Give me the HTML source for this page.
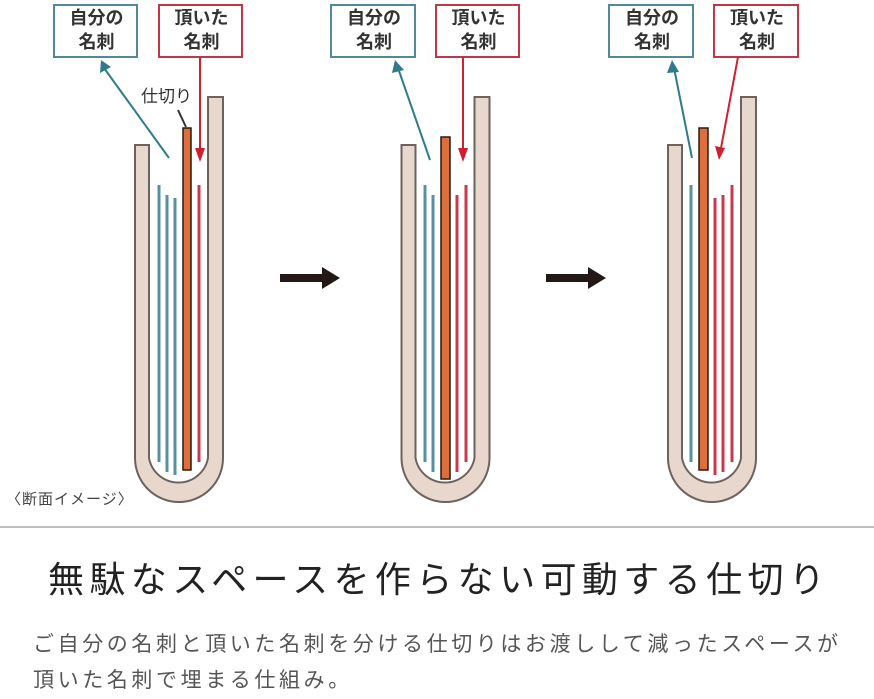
<!DOCTYPE html>
<html><head><meta charset="utf-8"><style>
html,body{margin:0;padding:0;background:#fff;}
body{width:874px;height:695px;overflow:hidden;position:relative;font-family:"Liberation Sans","Noto Sans CJK JP",sans-serif;}
svg{position:absolute;left:0;top:0;}
.t{position:absolute;white-space:nowrap;}
</style></head><body>
<svg width="874" height="695" viewBox="0 0 874 695">
<defs>
<g id="u">
<path d="M135,145 L149,145 L149,458 A30,30 0 0 0 208,458 L208,97 L223,97 L223,458 A44,44 0 0 1 135,458 Z" fill="#e8d7cc" stroke="#6d625d" stroke-width="2"/>
</g>
</defs>
<use href="#u"/>
<use href="#u" x="266.5"/>
<use href="#u" x="533"/>
<g stroke-linecap="butt" stroke-width="3">
<line x1="159" y1="185" x2="159" y2="462" stroke="#5790a0"/>
<line x1="167" y1="195" x2="167" y2="472" stroke="#5790a0"/>
<line x1="175" y1="198" x2="175" y2="475" stroke="#5790a0"/>
<line x1="199" y1="185" x2="199" y2="462" stroke="#c9394d"/>
<line x1="425" y1="185" x2="425" y2="462" stroke="#5790a0"/>
<line x1="433" y1="195" x2="433" y2="472" stroke="#5790a0"/>
<line x1="457" y1="195" x2="457" y2="472" stroke="#c9394d"/>
<line x1="466" y1="185" x2="466" y2="462" stroke="#c9394d"/>
<line x1="691" y1="185" x2="691" y2="462" stroke="#5790a0"/>
<line x1="715" y1="198" x2="715" y2="475" stroke="#c9394d"/>
<line x1="723" y1="195" x2="723" y2="472" stroke="#c9394d"/>
<line x1="732" y1="185" x2="732" y2="462" stroke="#c9394d"/>
</g>
<g fill="#dc6f3c" stroke="#2a1a14" stroke-width="1.5">
<rect x="183" y="128" width="8" height="342"/>
<rect x="441" y="137" width="9" height="342"/>
<rect x="699" y="128" width="9" height="342"/>
</g>
<g fill="#fff" stroke-width="2">
<rect x="54" y="5" width="83" height="52" stroke="#4f8a98"/>
<rect x="159" y="5" width="83" height="52" stroke="#c2364a"/>
<rect x="331" y="5" width="84" height="52" stroke="#4f8a98"/>
<rect x="436" y="5" width="83" height="52" stroke="#c2364a"/>
<rect x="609" y="5" width="84" height="52" stroke="#4f8a98"/>
<rect x="714" y="5" width="84" height="52" stroke="#c2364a"/>
</g>
<g stroke-width="2" fill="none">
<line x1="169" y1="158" x2="104" y2="68" stroke="#2f7b8c"/>
<line x1="200" y1="57" x2="200" y2="150" stroke="#d01f2e"/>
<line x1="430" y1="160" x2="398" y2="68" stroke="#2f7b8c"/>
<line x1="463" y1="57" x2="463" y2="150" stroke="#d01f2e"/>
<line x1="692" y1="158" x2="674" y2="68" stroke="#2f7b8c"/>
<line x1="738" y1="57" x2="721" y2="148" stroke="#d01f2e"/>
<line x1="178" y1="110" x2="186" y2="127" stroke="#333"/>
</g>
<g stroke="none">
<polygon points="101,60 100,73 111,67" fill="#2f7b8c"/>
<polygon points="395,60 392,73 404,70" fill="#2f7b8c"/>
<polygon points="672,60 667,73 679,72" fill="#2f7b8c"/>
<polygon points="200,162 195,148 205,148" fill="#d01f2e"/>
<polygon points="463,162 458,148 468,148" fill="#d01f2e"/>
<polygon points="719,160 715,146 725,148" fill="#d01f2e"/>
</g>
<polygon points="280,274 322,274 322,267 340,278 322,289 322,282 280,282" fill="#231815"/>
<polygon points="546,274 588,274 588,267 606,278 588,289 588,282 546,282" fill="#231815"/>
<line x1="0" y1="527" x2="874" y2="527" stroke="#aaa" stroke-width="1.5"/>
</svg>
<div class="t" style="left:54px;top:6px;width:85px;text-align:center;font-size:18px;line-height:24px;color:#333;font-weight:bold;">自分の<br>名刺</div>
<div class="t" style="left:159px;top:6px;width:85px;text-align:center;font-size:18px;line-height:24px;color:#333;font-weight:bold;">頂いた<br>名刺</div>
<div class="t" style="left:331px;top:6px;width:86px;text-align:center;font-size:18px;line-height:24px;color:#333;font-weight:bold;">自分の<br>名刺</div>
<div class="t" style="left:436px;top:6px;width:85px;text-align:center;font-size:18px;line-height:24px;color:#333;font-weight:bold;">頂いた<br>名刺</div>
<div class="t" style="left:609px;top:6px;width:86px;text-align:center;font-size:18px;line-height:24px;color:#333;font-weight:bold;">自分の<br>名刺</div>
<div class="t" style="left:714px;top:6px;width:86px;text-align:center;font-size:18px;line-height:24px;color:#333;font-weight:bold;">頂いた<br>名刺</div>
<div class="t" style="left:141px;top:85px;font-size:17px;line-height:24px;color:#333;">仕切り</div>
<div class="t" style="left:6px;top:488px;font-size:15px;line-height:24px;color:#444;letter-spacing:1px;">〈断面イメージ〉</div>
<div class="t" style="left:48px;top:558px;font-size:36px;line-height:44px;color:#222;letter-spacing:5.4px;">無駄なスペースを作らない可動する仕切り</div>
<div class="t" style="left:33px;top:627px;font-size:21px;line-height:36px;color:#555;letter-spacing:3.6px;">ご自分の名刺と頂いた名刺を分ける仕切りはお渡しして減ったスペースが<br>頂いた名刺で埋まる仕組み。</div>
</body></html>
